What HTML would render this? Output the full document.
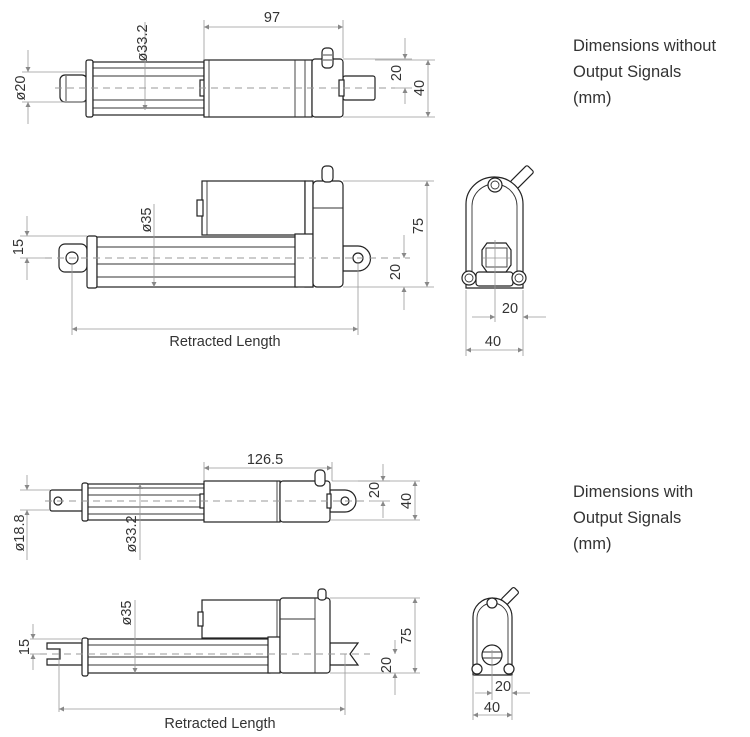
<!DOCTYPE html>
<html><head><meta charset="utf-8"><style>
html,body{margin:0;padding:0;background:#fff;}
svg{display:block;}
text{font-family:"Liberation Sans",sans-serif;fill:#333;}
.o{fill:#fff;stroke:#222;stroke-width:1.2;}
.l{stroke:#333;stroke-width:0.9;fill:none;}
.d{stroke:#999;stroke-width:0.8;fill:none;}
.c{stroke:#999;stroke-width:0.9;stroke-dasharray:7 5;fill:none;}
.t{font-size:14.5px;}
.r{font-size:16.5px;}
</style></head><body>
<svg width="750" height="737" viewBox="0 0 750 737" xmlns="http://www.w3.org/2000/svg">
<defs>
<marker id="a" viewBox="0 0 10 10" refX="10" refY="5" markerWidth="7" markerHeight="5" orient="auto-start-reverse" markerUnits="userSpaceOnUse"><path d="M0,0 L10,5 L0,10 z" fill="#888"/></marker>
</defs>

<text class="r" x="573" y="51">Dimensions without</text>
<text class="r" x="573" y="77">Output Signals</text>
<text class="r" x="573" y="103">(mm)</text>
<text class="r" x="573" y="497">Dimensions with</text>
<text class="r" x="573" y="523">Output Signals</text>
<text class="r" x="573" y="549">(mm)</text>

<!-- ===== Drawing A ===== -->
<rect class="o" x="60" y="75" width="27" height="27" rx="5"/>
<line class="l" x1="66" y1="76" x2="66" y2="101"/>
<rect class="o" x="86" y="60" width="7" height="57" rx="2"/>
<rect class="o" x="93" y="62" width="111" height="53"/>
<line class="l" x1="93" y1="68" x2="204" y2="68"/><line class="l" x1="93" y1="76" x2="204" y2="76"/>
<line class="l" x1="93" y1="100" x2="204" y2="100"/><line class="l" x1="93" y1="108" x2="204" y2="108"/>
<rect class="o" x="200" y="80" width="5" height="16"/>
<rect class="o" x="204" y="60" width="108" height="57"/>
<line class="l" x1="209" y1="60" x2="209" y2="117"/><line class="l" x1="295" y1="60" x2="295" y2="117"/><line class="l" x1="305" y1="60" x2="305" y2="117"/>
<rect class="o" x="343" y="76" width="32" height="24" rx="2"/>
<rect class="o" x="312" y="59" width="31" height="58" rx="3"/>
<rect class="o" x="339" y="80" width="5" height="16"/>
<rect class="o" x="322" y="48" width="11" height="20" rx="4"/>
<line class="l" x1="323" y1="55" x2="332" y2="55"/><line class="l" x1="323" y1="60" x2="332" y2="60"/>
<line class="c" x1="55" y1="88" x2="395" y2="88"/>
<line class="d" x1="204" y1="20" x2="204" y2="60"/><line class="d" x1="343" y1="20" x2="343" y2="58"/>
<line class="d" x1="204" y1="27" x2="343" y2="27" marker-start="url(#a)" marker-end="url(#a)"/>
<text class="t" x="272" y="22" text-anchor="middle">97</text>
<line class="d" x1="145" y1="22" x2="145" y2="110" marker-end="url(#a)"/>
<text class="t" transform="translate(147,43) rotate(-90)" text-anchor="middle">ø33.2</text>
<line class="d" x1="22" y1="72" x2="85" y2="72"/><line class="d" x1="22" y1="102" x2="85" y2="102"/>
<line class="d" x1="28" y1="50" x2="28" y2="72" marker-end="url(#a)"/><line class="d" x1="28" y1="124" x2="28" y2="102" marker-end="url(#a)"/>
<text class="t" transform="translate(25,88) rotate(-90)" text-anchor="middle">ø20</text>
<line class="d" x1="343" y1="59" x2="412" y2="59"/><line class="d" x1="395" y1="88" x2="412" y2="88"/>
<line class="d" x1="405" y1="38" x2="405" y2="59" marker-end="url(#a)"/><line class="d" x1="405" y1="104" x2="405" y2="88" marker-end="url(#a)"/>
<text class="t" transform="translate(401,73) rotate(-90)" text-anchor="middle">20</text>
<line class="d" x1="343" y1="117" x2="435" y2="117"/><line class="d" x1="375" y1="60" x2="435" y2="60"/>
<line class="d" x1="428" y1="60" x2="428" y2="117" marker-start="url(#a)" marker-end="url(#a)"/>
<text class="t" transform="translate(424,88) rotate(-90)" text-anchor="middle">40</text>

<!-- ===== Drawing B ===== -->
<rect class="o" x="202" y="181" width="103" height="54"/>
<rect class="o" x="197" y="200" width="6" height="16"/>
<line class="l" x1="207" y1="181" x2="207" y2="235"/>
<rect class="o" x="305" y="181" width="8" height="106"/>
<rect class="o" x="59" y="244" width="28" height="28" rx="6"/>
<circle class="o" cx="72" cy="258" r="6"/>
<rect class="o" x="87" y="236" width="10" height="52" rx="2"/>
<rect class="o" x="97" y="237" width="200" height="50"/>
<line class="l" x1="97" y1="247" x2="297" y2="247"/><line class="l" x1="97" y1="264" x2="297" y2="264"/><line class="l" x1="97" y1="277" x2="297" y2="277"/>
<rect class="o" x="295" y="234" width="18" height="53"/>
<path class="o" d="M343,246 L358,246 A12.5,12.5 0 0 1 358,271 L343,271 Z"/>
<circle class="o" cx="358" cy="258" r="5"/>
<rect class="o" x="313" y="181" width="30" height="106" rx="4"/>
<line class="l" x1="313" y1="208" x2="343" y2="208"/>
<rect class="o" x="322" y="166" width="11" height="16" rx="4"/>
<line class="c" x1="45" y1="258" x2="410" y2="258"/>
<line class="d" x1="20" y1="236" x2="87" y2="236"/><line class="d" x1="20" y1="258" x2="45" y2="258"/>
<line class="d" x1="27" y1="216" x2="27" y2="236" marker-end="url(#a)"/><line class="d" x1="27" y1="280" x2="27" y2="258" marker-end="url(#a)"/>
<text class="t" transform="translate(23,247) rotate(-90)" text-anchor="middle">15</text>
<line class="d" x1="154" y1="204" x2="154" y2="287" marker-end="url(#a)"/>
<text class="t" transform="translate(151,220) rotate(-90)" text-anchor="middle">ø35</text>
<line class="d" x1="343" y1="181" x2="434" y2="181"/><line class="d" x1="343" y1="287" x2="434" y2="287"/>
<line class="d" x1="427" y1="181" x2="427" y2="287" marker-start="url(#a)" marker-end="url(#a)"/>
<text class="t" transform="translate(423,226) rotate(-90)" text-anchor="middle">75</text>
<line class="d" x1="404" y1="235" x2="404" y2="258" marker-end="url(#a)"/><line class="d" x1="404" y1="310" x2="404" y2="287" marker-end="url(#a)"/>
<text class="t" transform="translate(400,272) rotate(-90)" text-anchor="middle">20</text>
<line class="d" x1="72" y1="264" x2="72" y2="335"/><line class="d" x1="358" y1="264" x2="358" y2="335"/>
<line class="d" x1="72" y1="329" x2="358" y2="329" marker-start="url(#a)" marker-end="url(#a)"/>
<text class="t" x="225" y="346" text-anchor="middle">Retracted Length</text>
<g transform="rotate(-45 522 177)"><rect class="o" x="510" y="172" width="24" height="10" rx="2"/></g>
<path class="o" d="M466,288 L466,204 A28.5,27 0 0 1 523,204 L523,288 Z"/>
<path class="l" d="M472,284 L472,206 A22.5,22 0 0 1 517,206 L517,284"/>
<rect class="o" x="476" y="272" width="37" height="14" rx="3"/>
<path class="o" d="M487,243 L506,243 L511,250 L511,265 L506,272 L487,272 L482,265 L482,250 Z"/>
<rect class="l" x="486" y="248" width="21" height="19"/>
<circle class="o" cx="469" cy="278" r="7"/><circle class="l" cx="469" cy="278" r="4"/>
<circle class="o" cx="519" cy="278" r="7"/><circle class="l" cx="519" cy="278" r="4"/>
<circle class="o" cx="495" cy="185" r="7"/><circle class="l" cx="495" cy="185" r="4"/>
<line class="d" x1="495" y1="240" x2="495" y2="322"/><line class="d" x1="483" y1="258" x2="510" y2="258"/>
<line class="d" x1="466" y1="290" x2="466" y2="356"/><line class="d" x1="523" y1="290" x2="523" y2="356"/>
<line class="d" x1="472" y1="317" x2="495" y2="317" marker-end="url(#a)"/><line class="d" x1="546" y1="317" x2="523" y2="317" marker-end="url(#a)"/>
<text class="t" x="510" y="313" text-anchor="middle">20</text>
<line class="d" x1="466" y1="350" x2="523" y2="350" marker-start="url(#a)" marker-end="url(#a)"/>
<text class="t" x="493" y="346" text-anchor="middle">40</text>

<!-- ===== Drawing C ===== -->
<rect class="o" x="50" y="490" width="34" height="21" rx="2"/>
<circle class="o" cx="58" cy="501" r="4"/>
<rect class="o" x="82" y="483" width="6" height="38" rx="2"/>
<rect class="o" x="88" y="484" width="116" height="36"/>
<line class="l" x1="88" y1="488" x2="204" y2="488"/><line class="l" x1="88" y1="495" x2="204" y2="495"/>
<line class="l" x1="88" y1="507" x2="204" y2="507"/><line class="l" x1="88" y1="514" x2="204" y2="514"/>
<rect class="o" x="200" y="494" width="5" height="14"/>
<rect class="o" x="204" y="481" width="76" height="41"/>
<line class="l" x1="277" y1="481" x2="277" y2="522"/>
<path class="o" d="M330,490 L345,490 A11,11 0 0 1 345,512 L330,512 Z"/>
<circle class="o" cx="345" cy="501" r="4"/>
<rect class="o" x="280" y="481" width="50" height="41" rx="3"/>
<rect class="o" x="327" y="494" width="4" height="14"/>
<rect class="o" x="315" y="470" width="10" height="16" rx="4"/>
<line class="c" x1="45" y1="501" x2="370" y2="501"/>
<line class="d" x1="204" y1="462" x2="204" y2="481"/><line class="d" x1="332" y1="462" x2="332" y2="481"/>
<line class="d" x1="204" y1="468" x2="332" y2="468" marker-start="url(#a)" marker-end="url(#a)"/>
<text class="t" x="265" y="464" text-anchor="middle">126.5</text>
<line class="d" x1="20" y1="490" x2="50" y2="490"/><line class="d" x1="20" y1="510" x2="50" y2="510"/>
<line class="d" x1="27" y1="475" x2="27" y2="490" marker-end="url(#a)"/><line class="d" x1="27" y1="560" x2="27" y2="510" marker-end="url(#a)"/>
<text class="t" transform="translate(24,533) rotate(-90)" text-anchor="middle">ø18.8</text>
<line class="d" x1="140" y1="560" x2="140" y2="484" marker-end="url(#a)"/>
<text class="t" transform="translate(136,534) rotate(-90)" text-anchor="middle">ø33.2</text>
<line class="d" x1="332" y1="481" x2="390" y2="481"/><line class="d" x1="370" y1="501" x2="390" y2="501"/>
<line class="d" x1="383" y1="464" x2="383" y2="481" marker-end="url(#a)"/><line class="d" x1="383" y1="518" x2="383" y2="501" marker-end="url(#a)"/>
<text class="t" transform="translate(379,490) rotate(-90)" text-anchor="middle">20</text>
<line class="d" x1="330" y1="520" x2="420" y2="520"/><line class="d" x1="358" y1="481" x2="420" y2="481"/>
<line class="d" x1="415" y1="481" x2="415" y2="520" marker-start="url(#a)" marker-end="url(#a)"/>
<text class="t" transform="translate(411,501) rotate(-90)" text-anchor="middle">40</text>

<!-- ===== Drawing D ===== -->
<rect class="o" x="202" y="600" width="78" height="38"/>
<rect class="o" x="198" y="612" width="5" height="14"/>
<line class="l" x1="277" y1="600" x2="277" y2="638"/>
<path class="o" d="M47,643 L82,643 L82,665 L47,665 L47,659 L60,659 L60,649 L47,649 Z"/>
<rect class="o" x="82" y="638" width="6" height="38" rx="2"/>
<rect class="o" x="88" y="639" width="182" height="34"/>
<line class="l" x1="88" y1="645" x2="270" y2="645"/><line class="l" x1="88" y1="657" x2="270" y2="657"/><line class="l" x1="88" y1="665" x2="270" y2="665"/>
<rect class="o" x="268" y="637" width="12" height="36"/>
<path class="o" d="M330,643 L358,643 L350,654 L358,665 L330,665 Z"/>
<rect class="o" x="280" y="598" width="50" height="75" rx="3"/>
<line class="l" x1="315" y1="598" x2="315" y2="673"/><line class="l" x1="280" y1="619" x2="315" y2="619"/>
<rect class="o" x="318" y="589" width="8" height="11" rx="3"/>
<line class="c" x1="40" y1="654" x2="370" y2="654"/>
<line class="d" x1="30" y1="639" x2="82" y2="639"/><line class="d" x1="30" y1="654" x2="40" y2="654"/>
<line class="d" x1="33" y1="624" x2="33" y2="639" marker-end="url(#a)"/><line class="d" x1="33" y1="670" x2="33" y2="654" marker-end="url(#a)"/>
<text class="t" transform="translate(29,647) rotate(-90)" text-anchor="middle">15</text>
<line class="d" x1="135" y1="600" x2="135" y2="673" marker-end="url(#a)"/>
<text class="t" transform="translate(131,613) rotate(-90)" text-anchor="middle">ø35</text>
<line class="d" x1="330" y1="598" x2="420" y2="598"/><line class="d" x1="330" y1="673" x2="420" y2="673"/>
<line class="d" x1="415" y1="598" x2="415" y2="673" marker-start="url(#a)" marker-end="url(#a)"/>
<text class="t" transform="translate(411,636) rotate(-90)" text-anchor="middle">75</text>
<line class="d" x1="395" y1="640" x2="395" y2="654" marker-end="url(#a)"/><line class="d" x1="395" y1="695" x2="395" y2="673" marker-end="url(#a)"/>
<text class="t" transform="translate(391,665) rotate(-90)" text-anchor="middle">20</text>
<line class="d" x1="59" y1="650" x2="59" y2="712"/><line class="d" x1="345" y1="654" x2="345" y2="715"/>
<line class="d" x1="59" y1="709" x2="345" y2="709" marker-start="url(#a)" marker-end="url(#a)"/>
<text class="t" x="220" y="728" text-anchor="middle">Retracted Length</text>
<g transform="rotate(-45 510 596)"><rect class="o" x="501" y="592" width="18" height="8" rx="2"/></g>
<path class="o" d="M473,675 L473,617 A19.5,19 0 0 1 512,617 L512,675 Z"/>
<path class="l" d="M477,671 L477,618 A15.5,15 0 0 1 508,618 L508,671"/>
<circle class="o" cx="492" cy="655" r="10"/>
<line class="l" x1="483" y1="652" x2="501" y2="652"/><line class="l" x1="483" y1="658" x2="501" y2="658"/>
<circle class="o" cx="477" cy="669" r="5"/><circle class="o" cx="509" cy="669" r="5"/><circle class="o" cx="492" cy="603" r="5"/>
<line class="d" x1="492" y1="650" x2="492" y2="700"/>
<line class="d" x1="473" y1="675" x2="473" y2="720"/><line class="d" x1="512" y1="675" x2="512" y2="720"/>
<line class="d" x1="475" y1="693" x2="492" y2="693" marker-end="url(#a)"/><line class="d" x1="530" y1="693" x2="512" y2="693" marker-end="url(#a)"/>
<text class="t" x="503" y="691" text-anchor="middle">20</text>
<line class="d" x1="473" y1="715" x2="512" y2="715" marker-start="url(#a)" marker-end="url(#a)"/>
<text class="t" x="492" y="712" text-anchor="middle">40</text>
</svg>
</body></html>
